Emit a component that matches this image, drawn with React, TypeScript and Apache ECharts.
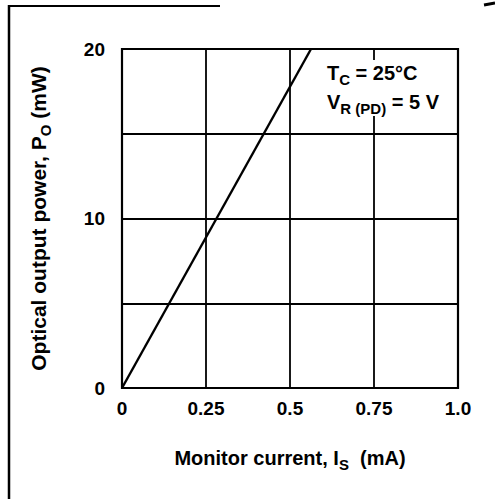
import React, { useEffect, useRef } from "react";
import * as echarts from "echarts";

const currentMA = [0, 0.5625];
const powerMW = [0, 20];
const xTickLabels = ["0", "0.25", "0.5", "0.75", "1.0"];
const yShownTicks = [0, 10, 20];

const FONT = "'Liberation Sans', Arial, Helvetica, sans-serif";

function richOf(size: number, sub: number) {
  return {
    m: { fontSize: size, fontWeight: "bold", fontFamily: FONT, color: "#000", lineHeight: size + 4, verticalAlign: "top" },
    s: { fontSize: sub, fontWeight: "bold", fontFamily: FONT, color: "#000", lineHeight: sub, verticalAlign: "bottom" },
  };
}

export default function App() {
  const ref = useRef<HTMLDivElement>(null);
  useEffect(() => {
    const chart = echarts.init(ref.current!, null, { renderer: "svg" });
    chart.setOption({
      animation: false,
      grid: {
        left: 122, top: 49, width: 336, height: 339,
        show: true, borderColor: "#000", borderWidth: 2.2, backgroundColor: "transparent",
      },
      xAxis: {
        type: "value", min: 0, max: 1, interval: 0.25,
        axisLine: { show: false }, axisTick: { show: false },
        splitLine: { show: true, lineStyle: { color: "#000", width: 1.8 } },
        axisLabel: {
          formatter: (v: number) => xTickLabels[Math.round(v / 0.25)],
          color: "#000", fontSize: 19, fontWeight: "bold", fontFamily: FONT, margin: 11,
        },
        name: "{m|Monitor current, I}{s|S}{m|  (mA)}",
        nameLocation: "middle", nameGap: 60,
        nameTextStyle: { rich: richOf(20, 15) },
      },
      yAxis: {
        type: "value", min: 0, max: 20, interval: 5,
        axisLine: { show: false }, axisTick: { show: false },
        splitLine: { show: true, lineStyle: { color: "#000", width: 1.8 } },
        axisLabel: {
          formatter: (v: number) => (yShownTicks.includes(v) ? String(v) : ""),
          color: "#000", fontSize: 19, fontWeight: "bold", fontFamily: FONT, margin: 17,
        },
        name: "{m|Optical output power, P}{s|O}{m| (mW)}",
        nameLocation: "middle", nameGap: 69, nameRotate: 90,
        nameTextStyle: { rich: richOf(21, 15) },
      },
      series: [
        {
          type: "line",
          data: currentMA.map((c, i) => [c, powerMW[i]]),
          symbol: "none",
          lineStyle: { color: "#000", width: 2.4 },
          clip: true,
          z: 3,
        },
      ],
      graphic: [
        { type: "line", shape: { x1: 9, y1: 5, x2: 9, y2: 499 }, style: { stroke: "#000", lineWidth: 2.5 } },
        { type: "line", shape: { x1: 9, y1: 6, x2: 220, y2: 6 }, style: { stroke: "#000", lineWidth: 2 } },
        { type: "line", shape: { x1: 484, y1: 5, x2: 495, y2: 3 }, style: { stroke: "#000", lineWidth: 3 } },
        { type: "rect", shape: { x: 322, y: 60, width: 132, height: 56 }, style: { fill: "#fff" }, z: 10 },
        {
          type: "text", left: 327, top: 63, z: 11,
          style: { text: "{m|T}{s|C}{m| = 25°C}", rich: richOf(20, 15) },
        },
        {
          type: "text", left: 327, top: 92, z: 11,
          style: { text: "{m|V}{s|R (PD)}{m| = 5 V}", rich: richOf(20, 15) },
        },
      ],
    });
    return () => chart.dispose();
  }, []);
  return (
    <div
      ref={ref}
      style={{ position: "fixed", left: 0, top: 0, width: 495, height: 499, background: "#fff" }}
    />
  );
}
